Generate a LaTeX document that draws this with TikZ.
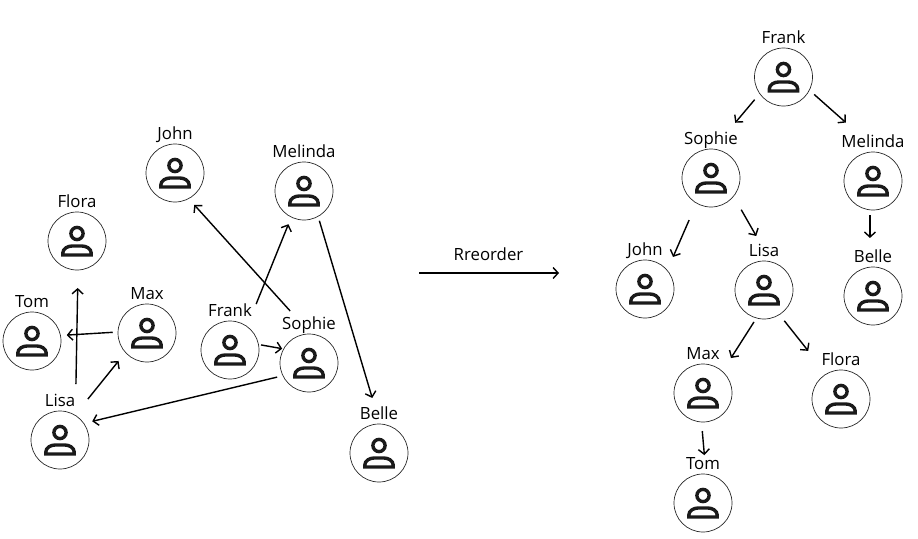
\documentclass[tikz,border=0pt]{standalone}
\usepackage{fontspec}
\setmainfont{Open Sans}
\usetikzlibrary{arrows.meta}
\definecolor{icon}{HTML}{1A1A1A}
\tikzstyle{person} = [circle, draw=black!85, line width=0.7pt, minimum size=58pt, inner sep=0pt, outer sep=0pt,
    path picture={
        \begin{scope}[shift={(path picture bounding box.center)}, draw=icon, line width=3.4pt]
            \draw (0,-7.5) circle (6.1);
            \draw (-14.2,14) -- (-14.2,12) .. controls (-14.2,7.5) and (-9,5) .. (-5,5) -- (5,5)
                .. controls (9,5) and (14.2,7.5) .. (14.2,12) -- (14.2,14) -- cycle;
        \end{scope}}]
\tikzstyle{tag} = [font=\fontsize{16.8}{16.8}\selectfont, text height=11.5pt, text depth=4pt, inner sep=0pt, outer sep=0pt]
\tikzstyle{line} = [draw, line width=1.4pt, -{Straight Barb[length=5pt,width=11pt,line width=1.4pt]}]

\begin{document}
\begin{tikzpicture}[x=1pt, y=-1pt, label distance=0.3pt]
    \useasboundingbox (0,0) rectangle (918,538);
    % Place nodes

    % scattered people
    \node [person, label={[tag]above:John}] (ljohn) at (175,173) {};
    \node [person, label={[tag]above:Melinda}] (lmelinda) at (304,191) {};
    \node [person, label={[tag]above:Flora}] (lflora) at (77,241) {};
    \node [person, label={[tag]above:Tom}] (ltom) at (32,341) {};
    \node [person, label={[tag]above:Max}] (lmax) at (147,333) {};
    \node [person, label={[tag]above:Frank}] (lfrank) at (230,350) {};
    \node [person, label={[tag]above:Sophie}] (lsophie) at (309,363) {};
    \node [person, label={[tag]above:Lisa}] (llisa) at (60,440) {};
    \node [person, label={[tag]above:Belle}] (lbelle) at (379,453) {};

    % reordered tree
    \node [person, label={[tag]above:Frank}] (rfrank) at (783.5,77) {};
    \node [person, label={[tag]above:Sophie}] (rsophie) at (711,178) {};
    \node [person, label={[tag]above:Melinda}] (rmelinda) at (873,181) {};
    \node [person, label={[tag]above:John}] (rjohn) at (645,289) {};
    \node [person, label={[tag]above:Lisa}] (rlisa) at (764,290) {};
    \node [person, label={[tag]above:Belle}] (rbelle) at (873,296) {};
    \node [person, label={[tag]above:Max}] (rmax) at (703,393) {};
    \node [person, label={[tag]above:Flora}] (rflora) at (841,399) {};
    \node [person, label={[tag]above:Tom}] (rtom) at (703,503) {};

    \coordinate (reorderstart) at (419,273);
    \coordinate (reorderend) at (559,273);
    \node [tag] (reorder) at (488.5,256.5) {Rreorder};

    % Draw edges
    \path [line, shorten <=31.1pt, shorten >=8.4pt] (lsophie.86.3) -- (ljohn.-62.6);
    \path [line, shorten <=24.3pt, shorten >=7.7pt] (lfrank.54.1) -- (lmelinda.-116.8);
    \path [line, shorten <=4.6pt, shorten >=27.2pt] (lmelinda.-61.9) -- (lbelle.88.4);
    \path [line, shorten <=2.6pt, shorten >=1.5pt] (lfrank.11) -- (lsophie.151.8);
    \path [line, shorten <=6pt, shorten >=8.7pt] (lsophie.-154.3) -- (llisa.35.9);
    \path [line, shorten <=31.4pt, shorten >=18pt] (llisa.58) -- (lflora.-88);
    \path [line, shorten <=20.6pt, shorten >=11pt] (llisa.59.7) -- (lmax.-138.5);
    \path [line, shorten <=5.3pt, shorten >=6.3pt] (lmax.178.8) -- (ltom.11.3);

    \path [line] (reorderstart) -- (reorderend);

    \path [line, shorten <=7.9pt, shorten >=34.4pt] (rfrank.-145.7) -- (rsophie.86.2);
    \path [line, shorten <=6.4pt, shorten >=45.7pt] (rfrank.-27.7) -- (rmelinda.76);
    \path [line, shorten <=18.5pt, shorten >=14.6pt] (rsophie.-120.5) -- (rjohn.40);
    \path [line, shorten <=15.5pt, shorten >=29.8pt] (rsophie.-39.8) -- (rlisa.76.3);
    \path [line, shorten <=5.2pt, shorten >=29.2pt] (rmelinda.-96) -- (rbelle.96);
    \path [line, shorten <=4.7pt, shorten >=15.9pt] (rlisa.-105) -- (rmax.48);
    \path [line, shorten <=7.9pt, shorten >=29.4pt] (rlisa.-58.7) -- (rflora.120.3);
    \path [line, shorten <=9.1pt, shorten >=19.1pt] (rmax.-93.6) -- (rtom.84.9);
\end{tikzpicture}
\end{document}
